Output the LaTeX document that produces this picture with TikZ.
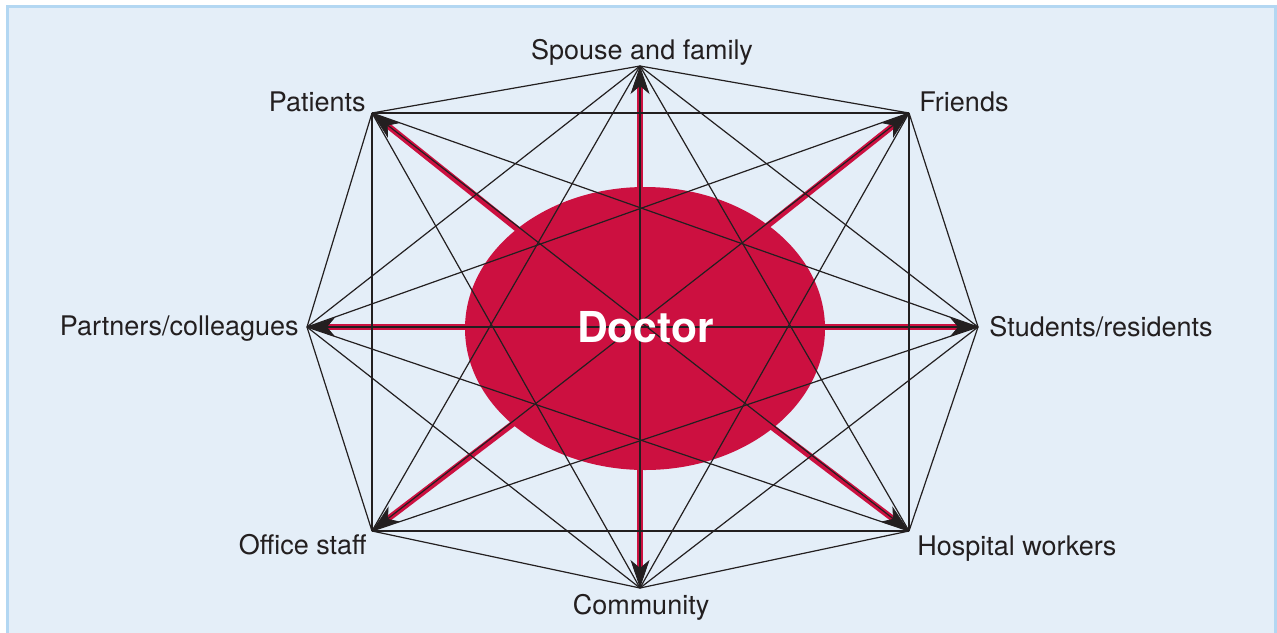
\documentclass[tikz,border=0pt]{standalone}
\usepackage{fontspec}
\setmainfont{TeX Gyre Heros}
\usetikzlibrary{arrows.meta}
\definecolor{panelfill}{HTML}{E4EEF8}
\definecolor{panelrule}{HTML}{B3D7F2}
\definecolor{doctorred}{HTML}{CC1040}
\definecolor{ink}{HTML}{231F20}
\begin{document}
\begin{tikzpicture}[x=0.5pt,y=-0.5pt,
  edge/.style={draw=ink, line width=0.6pt},
  tie/.style={draw=doctorred, line width=3pt,
    -{Stealth[length=14pt,width=9.5pt,inset=4pt,color=ink,line width=0.4pt]}},
  lbl/.style={font=\fontsize{13.5}{16}\selectfont, text=ink, inner sep=0pt},
  hubtext/.style={font=\bfseries\fontsize{21.3}{24}\selectfont, text=white, inner sep=0pt}]
\useasboundingbox (0,0) rectangle (1277,632);

% panel
\fill[panelfill] (7.5,6.5) rectangle (1275.5,640);
\draw[panelrule, line width=1.25pt] (7.5,640) -- (7.5,6.5) -- (1275.5,6.5) -- (1275.5,640);

% the eight contact points
\coordinate (v1) at (640,66);   % spouse and family
\coordinate (v2) at (909,113);  % friends
\coordinate (v3) at (978,327);  % students/residents
\coordinate (v4) at (909,531);  % hospital workers
\coordinate (v5) at (640,588);  % community
\coordinate (v6) at (372,531);  % office staff
\coordinate (v7) at (307,327);  % partners/colleagues
\coordinate (v8) at (372,113);  % patients
\coordinate (hub) at (640,327);

% the doctor in the middle
\fill[doctorred] (645,328.5) ellipse [x radius=180, y radius=141.5];

% ties from the doctor outwards
\foreach \i in {1,...,8} \draw[tie] (hub) -- (v\i);

% every point linked with every other
\foreach \i in {1,...,7}{
  \pgfmathtruncatemacro\nxt{\i+1}
  \foreach \j in {\nxt,...,8} \draw[edge] (v\i) -- (v\j);
}

\node[hubtext, anchor=base] (doc) at (645.5,342) {Doctor};

% labels
\node[lbl, anchor=base] (l1) at (642,59) {Spouse and family};
\node[lbl, anchor=base west] (l2) at (919,111) {Friends};
\node[lbl, anchor=base west] (l3) at (989,336) {Students/residents};
\node[lbl, anchor=base west] (l4) at (917,555) {Hospital workers};
\node[lbl, anchor=base] (l5) at (641,614) {Community};
\node[lbl, anchor=base east] (l6) at (367,554) {Office staff};
\node[lbl, anchor=base east] (l7) at (299,335) {Partners/colleagues};
\node[lbl, anchor=base east] (l8) at (366,111) {Patients};
\end{tikzpicture}
\end{document}
